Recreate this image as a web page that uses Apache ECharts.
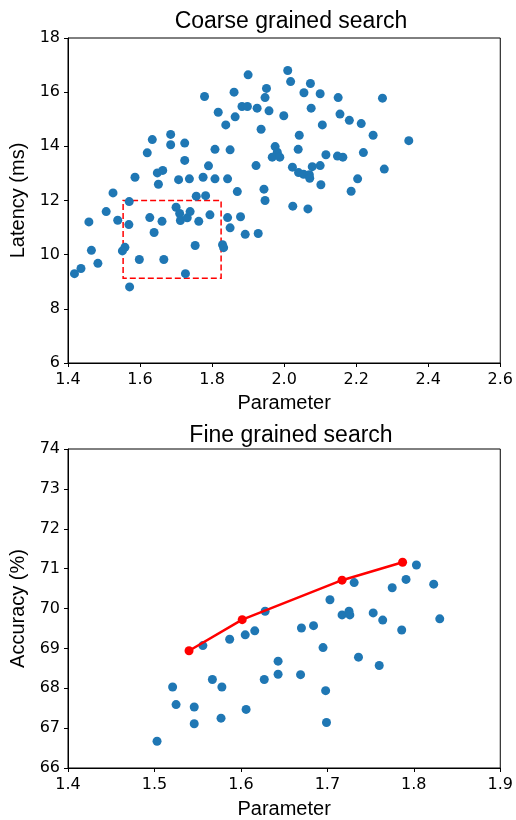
<!DOCTYPE html>
<html lang="en">
<head>
    <meta charset="UTF-8">
    <title>Coarse / fine grained search</title>
    <script src="https://cdn.jsdelivr.net/npm/echarts@6/dist/echarts.min.js"></script>
</head>
<body style="margin:0">
<div id="chart" style="width: 516px;height:820px"></div>
<script>
    var chart = echarts.init(document.getElementById('chart'));

    // coarse search: [parameter, latency ms]
    var coarsePoints = [
        [1.900, 16.64], [1.779, 15.84], [1.861, 16.00], [1.951, 16.14], [1.947, 15.80],
        [1.883, 15.47], [1.898, 15.47], [1.925, 15.41], [1.958, 15.31], [1.817, 15.26],
        [1.864, 15.09], [1.999, 15.13], [1.838, 14.79], [1.936, 14.63], [1.685, 14.44],
        [1.634, 14.25], [1.685, 14.06], [1.724, 14.12], [1.620, 13.76], [1.808, 13.89],
        [1.850, 13.87], [1.975, 13.99], [1.981, 13.78], [1.967, 13.60], [1.988, 13.60],
        [1.724, 13.48], [1.922, 13.29], [1.790, 13.28], [1.586, 12.86], [1.648, 13.02],
        [1.663, 13.11], [1.651, 12.60], [1.707, 12.77], [1.737, 12.80], [1.775, 12.86],
        [1.808, 12.80], [1.843, 12.80], [1.944, 12.42], [1.870, 12.33], [1.525, 12.28],
        [1.756, 12.16], [1.782, 12.18], [1.570, 11.96], [1.947, 12.00], [2.010, 16.80],
        [2.018, 16.39], [2.073, 16.32], [2.055, 15.98], [2.100, 15.94], [2.150, 15.80],
        [2.273, 15.78], [2.075, 15.41], [2.155, 15.19], [2.181, 14.96], [2.214, 14.84],
        [2.106, 14.79], [2.247, 14.41], [2.042, 14.41], [2.346, 14.21], [2.039, 13.89],
        [2.116, 13.69], [2.148, 13.64], [2.163, 13.60], [2.220, 13.77], [2.023, 13.23],
        [2.040, 13.03], [2.054, 12.97], [2.070, 12.95], [2.071, 12.82], [2.078, 13.25],
        [2.100, 13.29], [2.278, 13.16], [2.102, 12.58], [2.204, 12.80], [2.186, 12.34],
        [2.024, 11.79], [2.066, 11.69], [1.506, 11.59], [1.458, 11.21], [1.538, 11.27],
        [1.569, 11.11], [1.627, 11.37], [1.661, 11.23], [1.700, 11.75], [1.710, 11.52],
        [1.712, 11.26], [1.731, 11.36], [1.739, 11.59], [1.763, 11.23], [1.794, 11.47],
        [1.843, 11.37], [1.879, 11.40], [1.850, 10.99], [1.892, 10.75], [1.928, 10.78],
        [1.639, 10.82], [1.465, 10.16], [1.558, 10.27], [1.551, 10.14], [1.598, 9.82],
        [1.666, 9.82], [1.753, 10.34], [1.829, 10.37], [1.832, 10.26], [1.483, 9.68],
        [1.436, 9.49], [1.418, 9.30], [1.726, 9.30], [1.571, 8.81]
    ];
    // zoomed region for the fine search: [x1, y1, x2, y2]
    var fineRegion = [1.553, 12.0, 1.825, 9.13];

    // fine search: [parameter, accuracy %]
    var finePoints = [
        [1.556, 69.07], [1.587, 69.23], [1.605, 69.34], [1.616, 69.44], [1.628, 69.93],
        [1.643, 68.68], [1.643, 68.35], [1.627, 68.22], [1.567, 68.22], [1.578, 68.03],
        [1.521, 68.03], [1.525, 67.59], [1.546, 67.53], [1.546, 67.11], [1.577, 67.25],
        [1.606, 67.47], [1.503, 66.67], [1.717, 69.84], [1.725, 69.93], [1.726, 69.84],
        [1.753, 69.89], [1.764, 69.71], [1.830, 69.74], [1.786, 69.46], [1.670, 69.51],
        [1.684, 69.57], [1.695, 69.02], [1.736, 68.78], [1.760, 68.57], [1.669, 68.34],
        [1.698, 67.94], [1.699, 67.14], [1.731, 70.65], [1.703, 70.22], [1.775, 70.52],
        [1.791, 70.73], [1.803, 71.09], [1.823, 70.61]
    ];
    // best-so-far frontier
    var frontier = [[1.540, 68.94], [1.6015, 69.72], [1.717, 70.71], [1.787, 71.16]];

    var blue = '#1f77b4';
    var tickFont = 'DejaVu Sans';
    var labelFont = 'Liberation Sans';

    function valueAxis(idx, min, max, interval, name, gap, margin, decimals) {
        return {
            gridIndex: idx,
            type: 'value',
            min: min,
            max: max,
            interval: interval,
            name: name,
            nameLocation: 'middle',
            nameGap: gap,
            nameTextStyle: {fontFamily: labelFont, fontSize: 20, color: '#000'},
            axisLine: {show: true, lineStyle: {color: '#000', width: 1}},
            axisTick: {show: true, inside: false, length: 4, lineStyle: {color: '#000'}},
            axisLabel: {
                fontFamily: tickFont, fontSize: 16, color: '#000', margin: margin,
                formatter: function (v) { return v.toFixed(decimals); }
            },
            splitLine: {show: false}
        };
    }

    var option = {
        backgroundColor: '#fff',
        animation: false,
        title: [{
            text: 'Coarse grained search',
            left: 286, top: 5, textAlign: 'center',
            textStyle: {fontFamily: labelFont, fontSize: 23, fontWeight: 'normal', color: '#000'}
        }, {
            text: 'Fine grained search',
            left: 286, top: 419, textAlign: 'center',
            textStyle: {fontFamily: labelFont, fontSize: 23, fontWeight: 'normal', color: '#000'}
        }],
        grid: [
            {left: 68, right: 13, top: 38, height: 325, show: true, borderColor: '#000', borderWidth: 1},
            {left: 68, right: 13, top: 449, height: 326, show: true, borderColor: '#000', borderWidth: 1}
        ],
        xAxis: [
            valueAxis(0, 1.4, 2.6, 0.2, 'Parameter', 30, 9, 1),
            valueAxis(1, 1.4, 1.9, 0.1, 'Parameter', 31, 9, 1)
        ],
        yAxis: [
            valueAxis(0, 6, 18, 2, 'Latency (ms)', 37, 8, 0),
            valueAxis(1, 66, 74, 1, 'Accuracy (%)', 37, 8, 0)
        ],
        series: [{
            type: 'scatter',
            xAxisIndex: 0, yAxisIndex: 0,
            symbolSize: 9,
            itemStyle: {color: blue, opacity: 1},
            data: coarsePoints,
            markArea: {
                silent: true,
                itemStyle: {color: 'rgba(0,0,0,0)', borderColor: '#ff0000', borderWidth: 1.5, borderType: [6, 3]},
                data: [[{coord: [fineRegion[0], fineRegion[1]]}, {coord: [fineRegion[2], fineRegion[3]]}]]
            }
        }, {
            type: 'scatter',
            xAxisIndex: 1, yAxisIndex: 1,
            symbolSize: 9,
            itemStyle: {color: blue, opacity: 1},
            data: finePoints
        }, {
            type: 'line',
            xAxisIndex: 1, yAxisIndex: 1,
            symbol: 'circle',
            symbolSize: 9,
            lineStyle: {color: '#ff0000', width: 2.5},
            itemStyle: {color: '#ff0000'},
            z: 3,
            data: frontier
        }]
    };

    chart.setOption(option);
</script>
</body>
</html>
